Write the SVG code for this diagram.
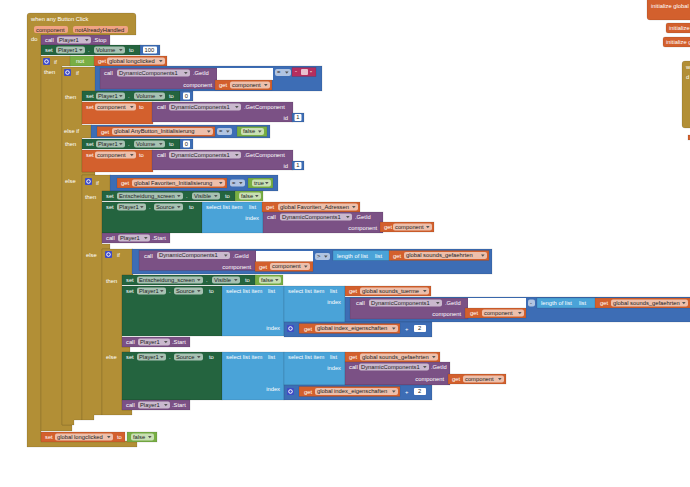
<svg xmlns="http://www.w3.org/2000/svg" xmlns:xlink="http://www.w3.org/1999/xlink" width="690" height="487" viewBox="0 0 690 487">
<style>
text{font-family:"Liberation Sans",Arial,sans-serif;font-size:5.8px;fill:#fff}
text.d{fill:#222}
text.e{text-anchor:end}
.ev{fill:#B28F36}.pu{fill:#7B5185}.dg{fill:#24643F}.or{fill:#D3602D}.bl{fill:#3D6DB5}.lb{fill:#4AA3D8}.lg{fill:#78AE44}.pk{fill:#B52E5E}
.ev,.pu,.dg,.or,.bl,.lb,.lg,.pk{stroke:#000;stroke-opacity:.18;stroke-width:.6}
.c{fill:#fff;fill-opacity:.6}
.n{fill:#fff}
.w{fill:#fff}
.p{fill:#F0A384}
</style>
<defs>
<path id="dd" d="M0 0h3.6l-1.8 2.2z" fill="#555"/>
<g id="gear"><rect width="7" height="7" rx="1" fill="#3F4CC6"/><circle cx="3.5" cy="3.5" r="1.8" fill="none" stroke="#fff" stroke-width="1"/></g>
</defs>
<rect width="690" height="487" fill="#fff"/>

<!-- right side fragments -->
<g id="right">
<rect class="or" x="647" y="-3" width="50" height="23" rx="3"/><text x="651" y="8">initialize global</text>
<rect class="or" x="666" y="23" width="30" height="10" rx="2"/><text x="669" y="30">initialize</text>
<rect class="or" x="663" y="37" width="32" height="10" rx="2"/><text x="666" y="44">initialize g</text>
<rect class="ev" x="682" y="61" width="15" height="67" rx="3"/><text x="686" y="69">w</text><text x="686" y="79">d</text>
<rect class="or" x="688" y="135" width="4" height="5"/>
</g>

<!-- C-shaped control blocks -->
<g id="event">
<path class="ev" d="M27,16Q27,13 30,13H133Q136,13 136,16V35H41V441H137V447H27Z"/>
<text x="31" y="21">when any Button Click</text>
<rect class="p" x="34" y="26" width="34" height="7" rx="2"/><text class="d" x="36" y="31.5">component</text>
<rect class="p" x="73" y="26" width="55" height="7" rx="2"/><text class="d" x="75" y="31.5">notAlreadyHandled</text>
<text x="31" y="41">do</text>
</g>
<g id="ifA">
<path class="ev" d="M41,56H71V66H62V425H72V431H41Z"/>
<use xlink:href="#gear" x="43" y="58"/><text x="54" y="64">if</text><text x="44" y="74">then</text>
</g>
<g id="ifB">
<path class="ev" d="M62,67H96V91H82V125H92V138H82V172H95V175H82V420H74V425H62Z"/>
<use xlink:href="#gear" x="64" y="69"/><text x="76" y="75">if</text>
<text x="65" y="99">then</text><text x="64" y="133">else if</text><text x="65" y="146">then</text><text x="65" y="183">else</text>
</g>
<g id="ifC">
<path class="ev" d="M82,175H111V191H102V244H110V249H102V415H94V420H82Z"/>
<use xlink:href="#gear" x="85" y="178"/><text x="96" y="185">if</text>
<text x="85" y="199">then</text><text x="86" y="257">else</text>
</g>
<g id="ifD">
<path class="ev" d="M102,249H133V275H122V347H130V352H122V410H132V415H102Z"/>
<use xlink:href="#gear" x="105" y="251"/><text x="117" y="257">if</text>
<text x="106" y="283">then</text><text x="106" y="359">else</text>
</g>

<!-- statements -->
<g id="s1">
<rect class="pu" x="41" y="35" width="69" height="10"/><text x="45" y="42">call</text>
<rect class="c" x="57" y="36.5" width="34" height="7" rx="2"/><text class="d" x="59" y="41.8">Player1</text><use xlink:href="#dd" x="85" y="39"/>
<text x="93" y="42">.Stop</text>
</g>
<g id="s2">
<rect class="dg" x="41" y="45" width="100" height="10"/><text x="45" y="52">set</text>
<rect class="c" x="56" y="46.5" width="29" height="7" rx="2"/><text class="d" x="58" y="51.8">Player1</text><use xlink:href="#dd" x="79" y="49"/>
<text x="88" y="52">.</text>
<rect class="c" x="94" y="46.5" width="31" height="7" rx="2"/><text class="d" x="96" y="51.8">Volume</text><use xlink:href="#dd" x="119" y="49"/>
<text x="129" y="52">to</text>
<rect class="bl" x="140" y="45" width="20" height="10"/><rect class="n" x="143" y="46.5" width="14" height="7" rx="1"/><text class="d" x="144.5" y="51.8">100</text>
</g>
<g id="condA">
<rect class="lg" x="70" y="56" width="25" height="10"/><text x="76" y="63">not</text>
<rect class="or" x="94" y="56" width="73" height="10"/><text x="98" y="63">get</text>
<rect class="c" x="107" y="57.5" width="58" height="7" rx="2"/><text class="d" x="109" y="62.8">global longclicked</text><use xlink:href="#dd" x="159" y="60"/>
</g>
<g id="condB">
<rect class="bl" x="95" y="66" width="227" height="25"/>
<rect class="pu" x="100" y="68" width="117" height="21"/><text x="104" y="75">call</text>
<rect class="c" x="117" y="69.5" width="73" height="7" rx="2"/><text class="d" x="119" y="74.8">DynamicComponents1</text><use xlink:href="#dd" x="184" y="72"/>
<text x="193" y="75">.GetId</text><text class="e" x="212" y="87">component</text>
<rect class="w" x="217" y="68" width="56" height="12"/>
<rect class="or" x="215" y="80" width="57" height="10"/><text x="219" y="87">get</text>
<rect class="c" x="230" y="81.5" width="40" height="7" rx="2"/><text class="d" x="232" y="86.8">component</text><use xlink:href="#dd" x="264" y="84"/>
<rect class="c" x="275" y="69" width="16" height="7" rx="2"/><text class="d" x="277" y="74.3">=</text><use xlink:href="#dd" x="285" y="71.5"/>
<rect class="pk" x="292" y="67.5" width="24" height="9"/><text x="295" y="74.5">“</text><rect class="w" x="301" y="69" width="7" height="6" rx="1" fill-opacity=".7"/><text x="310" y="74.5">”</text>
</g>
<g id="s3">
<rect class="dg" x="82" y="91" width="98" height="10"/><text x="86" y="98">set</text>
<rect class="c" x="96" y="92.5" width="29" height="7" rx="2"/><text class="d" x="98" y="97.8">Player1</text><use xlink:href="#dd" x="119" y="95"/>
<text x="128" y="98">.</text>
<rect class="c" x="134" y="92.5" width="31" height="7" rx="2"/><text class="d" x="136" y="97.8">Volume</text><use xlink:href="#dd" x="159" y="95"/>
<text x="169" y="98">to</text>
<rect class="bl" x="180" y="91" width="13" height="10"/><rect class="n" x="183" y="92.5" width="7" height="7" rx="1"/><text class="d" x="184.7" y="97.8">0</text>
</g>
<g id="s4">
<rect class="or" x="82" y="102" width="71" height="22"/><text x="86" y="109">set</text>
<rect class="c" x="95" y="103.5" width="41" height="7" rx="2"/><text class="d" x="97" y="108.8">component</text><use xlink:href="#dd" x="130" y="106"/>
<text x="139" y="109">to</text>
<rect class="pu" x="152" y="102" width="141" height="20"/><text x="157" y="109">call</text>
<rect class="c" x="169" y="103.5" width="72" height="7" rx="2"/><text class="d" x="171" y="108.8">DynamicComponents1</text><use xlink:href="#dd" x="235" y="106"/>
<text x="244" y="109">.GetComponent</text><text class="e" x="288" y="120">id</text>
<rect class="bl" x="292" y="113" width="12" height="9"/><rect class="n" x="294.5" y="114" width="7" height="7" rx="1"/><text class="d" x="296.3" y="119.3">1</text>
</g>
<g id="condB2">
<rect class="bl" x="91" y="125" width="179" height="13"/>
<rect class="or" x="97" y="126.5" width="118" height="10"/><text x="101" y="133.5">get</text>
<rect class="c" x="112" y="128" width="101" height="7" rx="2"/><text class="d" x="114" y="133.3">global AnyButton_Initialisierung</text><use xlink:href="#dd" x="207" y="130.5"/>
<rect class="c" x="217" y="128" width="15" height="7" rx="2"/><text class="d" x="219" y="133.3">=</text><use xlink:href="#dd" x="226" y="130.5"/>
<rect class="lg" x="237" y="126.5" width="30" height="10"/><rect class="c" x="241" y="128" width="23" height="7" rx="2"/><text class="d" x="243" y="133.3">false</text><use xlink:href="#dd" x="258" y="130.5"/>
</g>
<g id="s5">
<rect class="dg" x="82" y="139" width="98" height="10"/><text x="86" y="146">set</text>
<rect class="c" x="96" y="140.5" width="29" height="7" rx="2"/><text class="d" x="98" y="145.8">Player1</text><use xlink:href="#dd" x="119" y="143"/>
<text x="128" y="146">.</text>
<rect class="c" x="134" y="140.5" width="31" height="7" rx="2"/><text class="d" x="136" y="145.8">Volume</text><use xlink:href="#dd" x="159" y="143"/>
<text x="169" y="146">to</text>
<rect class="bl" x="180" y="139" width="13" height="10"/><rect class="n" x="183" y="140.5" width="7" height="7" rx="1"/><text class="d" x="184.7" y="145.8">0</text>
</g>
<g id="s6">
<rect class="or" x="82" y="150" width="71" height="22"/><text x="86" y="157">set</text>
<rect class="c" x="95" y="151.5" width="41" height="7" rx="2"/><text class="d" x="97" y="156.8">component</text><use xlink:href="#dd" x="130" y="154"/>
<text x="139" y="157">to</text>
<rect class="pu" x="152" y="150" width="141" height="20"/><text x="157" y="157">call</text>
<rect class="c" x="169" y="151.5" width="72" height="7" rx="2"/><text class="d" x="171" y="156.8">DynamicComponents1</text><use xlink:href="#dd" x="235" y="154"/>
<text x="244" y="157">.GetComponent</text><text class="e" x="288" y="168">id</text>
<rect class="bl" x="292" y="161" width="12" height="9"/><rect class="n" x="294.5" y="162" width="7" height="7" rx="1"/><text class="d" x="296.3" y="167.3">1</text>
</g>
<g id="condC">
<rect class="bl" x="110" y="175" width="168" height="16"/>
<rect class="or" x="117" y="178" width="110" height="10"/><text x="121" y="185">get</text>
<rect class="c" x="132" y="179.5" width="93" height="7" rx="2"/><text class="d" x="134" y="184.8">global Favoriten_Initialisierung</text><use xlink:href="#dd" x="219" y="182"/>
<rect class="c" x="230" y="179.5" width="15" height="7" rx="2"/><text class="d" x="232" y="184.8">=</text><use xlink:href="#dd" x="239" y="182"/>
<rect class="lg" x="248" y="178" width="25" height="10"/><rect class="c" x="252" y="179.5" width="19" height="7" rx="2"/><text class="d" x="254" y="184.8">true</text><use xlink:href="#dd" x="265" y="182"/>
</g>
<g id="s7">
<rect class="dg" x="102" y="191" width="134" height="10"/><text x="106" y="198">set</text>
<rect class="c" x="117" y="192.5" width="66" height="7" rx="2"/><text class="d" x="119" y="197.8">Entscheidung_screen</text><use xlink:href="#dd" x="177" y="195"/>
<text x="186" y="198">.</text>
<rect class="c" x="192" y="192.5" width="28" height="7" rx="2"/><text class="d" x="194" y="197.8">Visible</text><use xlink:href="#dd" x="214" y="195"/>
<text x="225" y="198">to</text>
<rect class="lg" x="235" y="191" width="28" height="10"/><rect class="c" x="239" y="192.5" width="22" height="7" rx="2"/><text class="d" x="241" y="197.8">false</text><use xlink:href="#dd" x="255" y="195"/>
</g>
<g id="s8">
<rect class="dg" x="102" y="202" width="100" height="31"/><text x="106" y="209">set</text>
<rect class="c" x="117" y="203.5" width="29" height="7" rx="2"/><text class="d" x="119" y="208.8">Player1</text><use xlink:href="#dd" x="140" y="206"/>
<text x="149" y="209">.</text>
<rect class="c" x="154" y="203.5" width="29" height="7" rx="2"/><text class="d" x="156" y="208.8">Source</text><use xlink:href="#dd" x="177" y="206"/>
<text x="189" y="209">to</text>
<rect class="lb" x="202" y="202" width="61" height="31"/><text x="206" y="209">select list item</text><text x="249" y="209">list</text><text class="e" x="259" y="220">index</text>
<rect class="or" x="262" y="202" width="98" height="10"/><text x="266" y="209">get</text>
<rect class="c" x="278" y="203.5" width="80" height="7" rx="2"/><text class="d" x="280" y="208.8">global Favoriten_Adressen</text><use xlink:href="#dd" x="352" y="206"/>
<rect class="pu" x="263" y="212" width="120" height="21"/><text x="267" y="219">call</text>
<rect class="c" x="280" y="213.5" width="72" height="7" rx="2"/><text class="d" x="282" y="218.8">DynamicComponents1</text><use xlink:href="#dd" x="346" y="216"/>
<text x="355" y="219">.GetId</text><text class="e" x="377" y="230">component</text>
<rect class="or" x="380" y="222" width="54" height="10"/><text x="384" y="229">get</text>
<rect class="c" x="393" y="223.5" width="39" height="7" rx="2"/><text class="d" x="395" y="228.8">component</text><use xlink:href="#dd" x="426" y="226"/>
</g>
<g id="s9">
<rect class="pu" x="102" y="233" width="68" height="10"/><text x="106" y="240">call</text>
<rect class="c" x="118" y="234.5" width="32" height="7" rx="2"/><text class="d" x="120" y="239.8">Player1</text><use xlink:href="#dd" x="144" y="237"/>
<text x="152" y="240">.Start</text>
</g>
<g id="condD">
<rect class="bl" x="132" y="249" width="360" height="25"/>
<rect class="pu" x="139" y="250.5" width="117" height="20"/><text x="144" y="257.5">call</text>
<rect class="c" x="157" y="252" width="73" height="7" rx="2"/><text class="d" x="159" y="257.3">DynamicComponents1</text><use xlink:href="#dd" x="224" y="254.5"/>
<text x="233" y="257.5">.GetId</text><text class="e" x="251" y="268.5">component</text>
<rect class="w" x="256" y="251" width="57" height="11"/>
<rect class="or" x="255" y="261.5" width="58" height="10"/><text x="259" y="268.5">get</text>
<rect class="c" x="270" y="263" width="40" height="7" rx="2"/><text class="d" x="272" y="268.3">component</text><use xlink:href="#dd" x="304" y="265.5"/>
<rect class="c" x="315" y="253" width="15" height="7" rx="2"/><text class="d" x="317" y="258.3">&gt;</text><use xlink:href="#dd" x="324" y="255.5"/>
<rect class="lb" x="333" y="250.5" width="58" height="10"/><text x="337" y="257.5">length of list</text><text x="375" y="257.5">list</text>
<rect class="or" x="389" y="250.5" width="100" height="10"/><text x="393" y="257.5">get</text>
<rect class="c" x="404" y="252" width="83" height="7" rx="2"/><text class="d" x="406" y="257.3">global sounds_gefaehrten</text><use xlink:href="#dd" x="481" y="254.5"/>
</g>
<g id="s10">
<rect class="dg" x="122" y="275" width="134" height="10"/><text x="126" y="282">set</text>
<rect class="c" x="137" y="276.5" width="66" height="7" rx="2"/><text class="d" x="139" y="281.8">Entscheidung_screen</text><use xlink:href="#dd" x="197" y="279"/>
<text x="206" y="282">.</text>
<rect class="c" x="212" y="276.5" width="28" height="7" rx="2"/><text class="d" x="214" y="281.8">Visible</text><use xlink:href="#dd" x="234" y="279"/>
<text x="245" y="282">to</text>
<rect class="lg" x="255" y="275" width="28" height="10"/><rect class="c" x="259" y="276.5" width="22" height="7" rx="2"/><text class="d" x="261" y="281.8">false</text><use xlink:href="#dd" x="275" y="279"/>
</g>
<g id="s11">
<rect class="dg" x="122" y="286" width="100" height="50"/><text x="126" y="293">set</text>
<rect class="c" x="137" y="287.5" width="29" height="7" rx="2"/><text class="d" x="139" y="292.8">Player1</text><use xlink:href="#dd" x="160" y="290"/>
<text x="169" y="293">.</text>
<rect class="c" x="174" y="287.5" width="29" height="7" rx="2"/><text class="d" x="176" y="292.8">Source</text><use xlink:href="#dd" x="197" y="290"/>
<text x="209" y="293">to</text>
<rect class="lb" x="222" y="286" width="62" height="50"/><text x="226" y="293">select list item</text><text x="268" y="293">list</text><text class="e" x="280" y="329.5">index</text>
<rect class="lb" x="284" y="286" width="61" height="36"/><text x="288" y="293">select list item</text><text x="330" y="293">list</text><text class="e" x="341" y="304">index</text>
<rect class="or" x="345" y="286" width="86" height="10"/><text x="349" y="293">get</text>
<rect class="c" x="360" y="287.5" width="69" height="7" rx="2"/><text class="d" x="362" y="292.8">global sounds_tuerme</text><use xlink:href="#dd" x="423" y="290"/>
<rect class="bl" x="345" y="297" width="350" height="25"/>
<rect class="pu" x="350" y="298" width="118" height="21"/><text x="356" y="305">call</text>
<rect class="c" x="369" y="299.5" width="73" height="7" rx="2"/><text class="d" x="371" y="304.8">DynamicComponents1</text><use xlink:href="#dd" x="436" y="302"/>
<text x="445" y="305">.GetId</text><text class="e" x="461" y="316">component</text>
<rect class="w" x="468" y="298" width="58" height="10"/>
<rect class="or" x="465" y="308" width="61" height="10"/><text x="470" y="315">get</text>
<rect class="c" x="482" y="309.5" width="42" height="7" rx="2"/><text class="d" x="484" y="314.8">component</text><use xlink:href="#dd" x="518" y="312"/>
<rect class="c" x="528" y="299.5" width="7" height="7" rx="2"/><text class="d" x="530" y="304.8">-</text>
<rect class="lb" x="537" y="298" width="60" height="10"/><text x="541" y="305">length of list</text><text x="579" y="305">list</text>
<rect class="or" x="595" y="298" width="100" height="10"/><text x="600" y="305">get</text>
<rect class="c" x="611" y="299.5" width="77" height="7" rx="2"/><text class="d" x="613" y="304.8">global sounds_gefaehrten</text><use xlink:href="#dd" x="682" y="302"/>
<rect class="bl" x="284" y="322" width="148" height="15"/><use xlink:href="#gear" x="287" y="325"/>
<rect class="or" x="299" y="323.5" width="101" height="10"/><text x="304" y="330.5">get</text>
<rect class="c" x="315" y="325" width="83" height="7" rx="2"/><text class="d" x="317" y="330.3">global index_eigenschaften</text><use xlink:href="#dd" x="392" y="327.5"/>
<text x="405" y="331">+</text>
<rect class="n" x="414" y="325" width="12" height="7" rx="1"/><text class="d" x="418" y="330.3">2</text>
</g>
<g id="s12">
<rect class="pu" x="122" y="337" width="68" height="10"/><text x="126" y="344">call</text>
<rect class="c" x="138" y="338.5" width="32" height="7" rx="2"/><text class="d" x="140" y="343.8">Player1</text><use xlink:href="#dd" x="164" y="341"/>
<text x="172" y="344">.Start</text>
</g>
<g id="s13">
<rect class="dg" x="122" y="352" width="100" height="48"/><text x="126" y="359">set</text>
<rect class="c" x="137" y="353.5" width="29" height="7" rx="2"/><text class="d" x="139" y="358.8">Player1</text><use xlink:href="#dd" x="160" y="356"/>
<text x="169" y="359">.</text>
<rect class="c" x="174" y="353.5" width="29" height="7" rx="2"/><text class="d" x="176" y="358.8">Source</text><use xlink:href="#dd" x="197" y="356"/>
<text x="209" y="359">to</text>
<rect class="lb" x="222" y="352" width="62" height="48"/><text x="226" y="359">select list item</text><text x="268" y="359">list</text><text class="e" x="280" y="391">index</text>
<rect class="lb" x="284" y="352" width="61" height="33"/><text x="288" y="359">select list item</text><text x="330" y="359">list</text><text class="e" x="341" y="370">index</text>
<rect class="or" x="345" y="352" width="95" height="10"/><text x="349" y="359">get</text>
<rect class="c" x="360" y="353.5" width="78" height="7" rx="2"/><text class="d" x="362" y="358.8">global sounds_gefaehrten</text><use xlink:href="#dd" x="432" y="356"/>
<rect class="pu" x="345" y="362" width="105" height="23"/><text x="349" y="369">call</text>
<rect class="c" x="359" y="363.5" width="70" height="7" rx="2"/><text class="d" x="361" y="368.8">DynamicComponents1</text><use xlink:href="#dd" x="423" y="366"/>
<text x="431" y="369">.GetId</text><text class="e" x="444" y="381">component</text>
<rect class="or" x="448" y="374" width="58" height="10"/><text x="452" y="381">get</text>
<rect class="c" x="463" y="375.5" width="41" height="7" rx="2"/><text class="d" x="465" y="380.8">component</text><use xlink:href="#dd" x="498" y="378"/>
<rect class="bl" x="284" y="385" width="148" height="15"/><use xlink:href="#gear" x="287" y="388"/>
<rect class="or" x="299" y="386.5" width="101" height="10"/><text x="304" y="393.5">get</text>
<rect class="c" x="315" y="388" width="83" height="7" rx="2"/><text class="d" x="317" y="393.3">global index_eigenschaften</text><use xlink:href="#dd" x="392" y="390.5"/>
<text x="405" y="394">+</text>
<rect class="n" x="414" y="388" width="12" height="7" rx="1"/><text class="d" x="418" y="393.3">2</text>
</g>
<g id="s14">
<rect class="pu" x="122" y="400" width="68" height="10"/><text x="126" y="407">call</text>
<rect class="c" x="138" y="401.5" width="32" height="7" rx="2"/><text class="d" x="140" y="406.8">Player1</text><use xlink:href="#dd" x="164" y="404"/>
<text x="172" y="407">.Start</text>
</g>
<g id="s15">
<rect class="or" x="41" y="432" width="84" height="10"/><text x="45" y="439">set</text>
<rect class="c" x="55" y="433.5" width="58" height="7" rx="2"/><text class="d" x="57" y="438.8">global longclicked</text><use xlink:href="#dd" x="107" y="436"/>
<text x="117" y="439">to</text>
<rect class="lg" x="127" y="432" width="30" height="10"/><rect class="c" x="131" y="433.5" width="23" height="7" rx="2"/><text class="d" x="133" y="438.8">false</text><use xlink:href="#dd" x="148" y="436"/>
</g>
</svg>
